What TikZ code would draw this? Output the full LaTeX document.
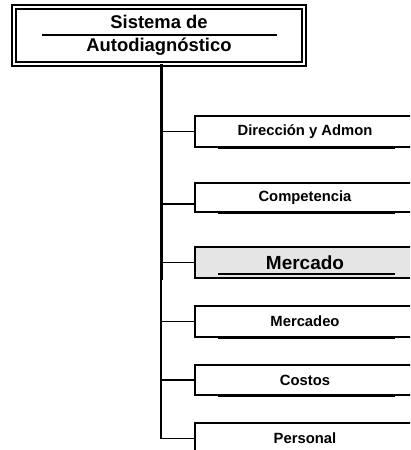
\documentclass[tikz,border=0pt]{standalone}
\usepackage{fontspec}
\setmainfont{Liberation Sans}
\begin{document}
\begin{tikzpicture}[x=1pt,y=-1pt,
  titlebox/.style={draw, double, line width=1.2pt, double distance=2.8pt,
    minimum width=290pt, minimum height=57pt, inner sep=0pt, outer sep=0pt,
    align=center, font=\fontsize{18.4}{23.3}\selectfont\bfseries},
  itembox/.style={draw, line width=1.1pt, anchor=north west,
    minimum width=220pt, minimum height=31pt, inner sep=0pt, outer sep=0pt,
    font=\fontsize{14.8}{17}\selectfont\bfseries},
  bigitem/.style={itembox, fill=black!10, font=\fontsize{19}{22}\selectfont\bfseries},
  underbar/.style={line width=2pt},
  branch/.style={line width=1.3pt},
  trunk/.style={line width=3pt},
  thintrunk/.style={line width=1.6pt}
]
\clip (0,0) rectangle (410,450);

% title box with its double frame
\node[titlebox] (title) at (159,35.5) {Sistema de\\Autodiagnóstico};
\draw[line width=1.3pt] (42,35) -- (277,35);

% child boxes
\node[itembox, minimum height=31pt] (dir)  at (195,116) {Dirección y Admon};
\node[itembox, minimum height=29pt] (comp) at (195,183) {Competencia};
\node[bigitem, minimum height=31pt] (merc) at (195,247) {Mercado};
\node[itembox, minimum height=31pt] (mkt)  at (195,306) {Mercadeo};
\node[itembox, minimum height=30pt] (cost) at (195,365) {Costos};
\node[itembox, minimum height=31pt] (pers) at (195,423) {Personal};

% heavy rules along the box bottoms
\draw[underbar] (218,147.5) -- (395,147.5);
\draw[underbar] (218,212.5) -- (395,212.5);
\draw[underbar] (218,273.5) -- (395,273.5);
\draw[underbar] (218,337.5) -- (395,337.5);
\draw[underbar] (218,395.5) -- (395,395.5);

% trunk and branches
\coordinate (split) at (161,280);
\coordinate (compport) at ([yshift=-6.5pt]comp.west);
\draw[trunk] (split |- title.south) -- (split);
\draw[thintrunk] (split) -- (split |- pers.west) -- (pers.west);
\draw[branch] (split |- dir.west) -- (dir.west);
\draw[branch] (split |- compport) -- (compport);
\draw[branch] (split |- merc.west) -- (merc.west);
\draw[branch] (split |- mkt.west) -- (mkt.west);
\draw[branch] (split |- cost.west) -- (cost.west);
\end{tikzpicture}
\end{document}
